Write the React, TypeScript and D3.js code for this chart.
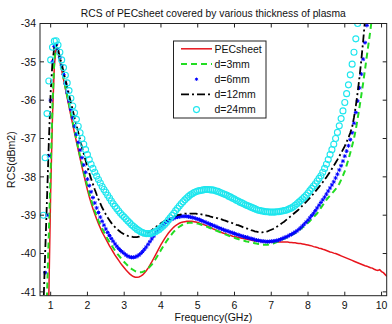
import * as d3 from "d3";

// sampling grid (GHz)
const freq = [
  0.75, 0.8, 0.85, 0.9, 0.95, 1, 1.05, 1.1, 1.15, 1.2,
  1.25, 1.3, 1.35, 1.4, 1.45, 1.5, 1.55, 1.6, 1.65, 1.7,
  1.75, 1.8, 1.85, 1.9, 1.95, 2, 2.05, 2.1, 2.15, 2.2,
  2.25, 2.3, 2.35, 2.4, 2.45, 2.5, 2.55, 2.6, 2.65, 2.7,
  2.75, 2.8, 2.85, 2.9, 2.95, 3, 3.05, 3.1, 3.15, 3.2,
  3.25, 3.3, 3.35, 3.4, 3.45, 3.5, 3.55, 3.6, 3.65, 3.7,
  3.75, 3.8, 3.85, 3.9, 3.95, 4, 4.05, 4.1, 4.15, 4.2,
  4.25, 4.3, 4.35, 4.4, 4.45, 4.5, 4.55, 4.6, 4.65, 4.7,
  4.75, 4.8, 4.85, 4.9, 4.95, 5, 5.05, 5.1, 5.15, 5.2,
  5.25, 5.3, 5.35, 5.4, 5.45, 5.5, 5.55, 5.6, 5.65, 5.7,
  5.75, 5.8, 5.85, 5.9, 5.95, 6, 6.05, 6.1, 6.15, 6.2,
  6.25, 6.3, 6.35, 6.4, 6.45, 6.5, 6.55, 6.6, 6.65, 6.7,
  6.75, 6.8, 6.85, 6.9, 6.95, 7, 7.05, 7.1, 7.15, 7.2,
  7.25, 7.3, 7.35, 7.4, 7.45, 7.5, 7.55, 7.6, 7.65, 7.7,
  7.75, 7.8, 7.85, 7.9, 7.95, 8, 8.05, 8.1, 8.15, 8.2,
  8.25, 8.3, 8.35, 8.4, 8.45, 8.5, 8.55, 8.6, 8.65, 8.7,
  8.75, 8.8, 8.85, 8.9, 8.95, 9, 9.05, 9.1, 9.15, 9.2,
  9.25, 9.3, 9.35, 9.4, 9.45, 9.5, 9.55, 9.6, 9.65, 9.7,
  9.75, 9.8, 9.85, 9.9, 9.95, 10, 10.05, 10.1, 10.15,
];

const pecSheet = [
  null, null, null, -43.2, -41.1, -38.4, -36.4, -35.1, -34.63, -34.75,
  -34.98, -35.22, -35.46, -35.7, -35.94, -36.17, -36.4, -36.63, -36.86, -37.08,
  -37.3, -37.52, -37.73, -37.94, -38.14, -38.34, -38.52, -38.68, -38.83, -38.97,
  -39.1, -39.22, -39.33, -39.44, -39.53, -39.62, -39.71, -39.8, -39.88, -39.96,
  -40.04, -40.11, -40.18, -40.25, -40.31, -40.37, -40.43, -40.48, -40.53, -40.57,
  -40.6, -40.62, -40.62, -40.61, -40.59, -40.56, -40.51, -40.45, -40.38, -40.3,
  -40.22, -40.13, -40.04, -39.95, -39.86, -39.77, -39.69, -39.61, -39.54, -39.47,
  -39.41, -39.36, -39.31, -39.27, -39.24, -39.21, -39.19, -39.18, -39.17, -39.16,
  -39.16, -39.16, -39.16, -39.17, -39.18, -39.19, -39.21, -39.23, -39.24, -39.26,
  -39.28, -39.3, -39.32, -39.35, -39.37, -39.39, -39.41, -39.43, -39.45, -39.47,
  -39.48, -39.5, -39.52, -39.53, -39.55, -39.56, -39.57, -39.58, -39.59, -39.6,
  -39.61, -39.62, -39.63, -39.64, -39.65, -39.66, -39.67, -39.67, -39.68, -39.68,
  -39.69, -39.69, -39.69, -39.7, -39.7, -39.7, -39.7, -39.7, -39.7, -39.7,
  -39.7, -39.7, -39.7, -39.7, -39.7, -39.71, -39.71, -39.72, -39.72, -39.73,
  -39.74, -39.74, -39.75, -39.76, -39.77, -39.78, -39.79, -39.8, -39.82, -39.83,
  -39.84, -39.86, -39.87, -39.89, -39.9, -39.92, -39.94, -39.96, -39.97, -39.99,
  -40.0, -40.02, -40.04, -40.06, -40.08, -40.1, -40.12, -40.14, -40.16, -40.18,
  -40.2, -40.22, -40.24, -40.26, -40.28, -40.3, -40.32, -40.33, -40.35, -40.37,
  -40.38, -40.41, -40.43, -40.44, -40.42, -40.47, -40.5, -40.55, -40.6,
];

const plasma3mm = [
  null, null, -43.0, -41.1, -39.5, -37.8, -36.1, -34.95, -34.6, -34.7,
  -34.93, -35.17, -35.41, -35.65, -35.88, -36.11, -36.34, -36.57, -36.8, -37.02,
  -37.24, -37.45, -37.66, -37.86, -38.06, -38.25, -38.43, -38.6, -38.75, -38.89,
  -39.02, -39.14, -39.25, -39.35, -39.44, -39.53, -39.62, -39.7, -39.78, -39.85,
  -39.92, -39.99, -40.05, -40.11, -40.17, -40.22, -40.27, -40.32, -40.36, -40.4,
  -40.43, -40.46, -40.48, -40.49, -40.49, -40.48, -40.46, -40.43, -40.39, -40.34,
  -40.29, -40.22, -40.15, -40.07, -39.99, -39.91, -39.83, -39.75, -39.68, -39.61,
  -39.55, -39.49, -39.43, -39.38, -39.34, -39.3, -39.27, -39.24, -39.22, -39.21,
  -39.2, -39.2, -39.2, -39.2, -39.21, -39.22, -39.23, -39.25, -39.27, -39.29,
  -39.3, -39.32, -39.34, -39.36, -39.38, -39.4, -39.42, -39.44, -39.46, -39.48,
  -39.5, -39.52, -39.54, -39.56, -39.58, -39.59, -39.61, -39.62, -39.64, -39.65,
  -39.66, -39.68, -39.69, -39.7, -39.71, -39.72, -39.73, -39.74, -39.75, -39.76,
  -39.77, -39.77, -39.77, -39.77, -39.76, -39.75, -39.74, -39.72, -39.7, -39.68,
  -39.66, -39.64, -39.61, -39.59, -39.56, -39.54, -39.52, -39.49, -39.47, -39.44,
  -39.4, -39.36, -39.32, -39.28, -39.24, -39.2, -39.15, -39.1, -39.05, -39.0,
  -38.95, -38.88, -38.81, -38.74, -38.67, -38.6, -38.54, -38.48, -38.43, -38.38,
  -38.32, -38.25, -38.18, -38.08, -37.97, -37.85, -37.7, -37.54, -37.37, -37.19,
  -37.0, -36.76, -36.48, -36.18, -35.87, -35.55, -35.2, -34.85, -34.5, -34.15,
  -33.75, null, null, null, null, null, null, null, null,
];

const plasma6mm = [
  null, -42.0, -40.5, -39.0, -37.45, -36.0, -35.0, -34.6, -34.55, -34.68,
  -34.88, -35.1, -35.33, -35.56, -35.79, -36.02, -36.24, -36.46, -36.68, -36.89,
  -37.1, -37.3, -37.5, -37.69, -37.88, -38.06, -38.23, -38.39, -38.54, -38.68,
  -38.81, -38.93, -39.05, -39.16, -39.26, -39.36, -39.45, -39.53, -39.61, -39.68,
  -39.75, -39.81, -39.87, -39.92, -39.96, -40.0, -40.04, -40.07, -40.09, -40.1,
  -40.1, -40.09, -40.07, -40.04, -40.0, -39.95, -39.89, -39.83, -39.76, -39.69,
  -39.62, -39.55, -39.48, -39.42, -39.36, -39.31, -39.26, -39.22, -39.18, -39.15,
  -39.12, -39.1, -39.08, -39.06, -39.05, -39.04, -39.03, -39.03, -39.03, -39.03,
  -39.04, -39.05, -39.06, -39.07, -39.09, -39.1, -39.12, -39.14, -39.16, -39.18,
  -39.2, -39.22, -39.24, -39.26, -39.28, -39.3, -39.32, -39.34, -39.36, -39.38,
  -39.4, -39.41, -39.43, -39.45, -39.46, -39.48, -39.5, -39.51, -39.53, -39.54,
  -39.56, -39.57, -39.58, -39.6, -39.61, -39.62, -39.64, -39.65, -39.66, -39.67,
  -39.68, -39.68, -39.69, -39.69, -39.69, -39.68, -39.68, -39.67, -39.66, -39.65,
  -39.63, -39.61, -39.59, -39.57, -39.55, -39.52, -39.5, -39.47, -39.44, -39.41,
  -39.37, -39.33, -39.28, -39.23, -39.18, -39.13, -39.07, -39.01, -38.95, -38.88,
  -38.81, -38.74, -38.67, -38.6, -38.53, -38.45, -38.37, -38.29, -38.21, -38.13,
  -38.03, -37.93, -37.82, -37.71, -37.59, -37.46, -37.33, -37.19, -37.03, -36.85,
  -36.6, -36.32, -36.02, -35.68, -35.32, -34.93, -34.5, -34.05, -33.6, null,
  null, null, null, null, null, null, null, null, null,
];

const plasma12mm = [
  null, -41.5, -40.0, -38.6, -37.1, -35.8, -35.0, -34.62, -34.55, -34.68,
  -34.87, -35.06, -35.26, -35.46, -35.66, -35.86, -36.06, -36.26, -36.46, -36.65,
  -36.84, -37.03, -37.22, -37.4, -37.57, -37.74, -37.9, -38.05, -38.19, -38.33,
  -38.46, -38.58, -38.69, -38.8, -38.89, -38.98, -39.06, -39.13, -39.2, -39.26,
  -39.31, -39.36, -39.4, -39.44, -39.47, -39.5, -39.52, -39.54, -39.55, -39.56,
  -39.57, -39.57, -39.57, -39.56, -39.55, -39.53, -39.51, -39.48, -39.45, -39.42,
  -39.39, -39.35, -39.32, -39.28, -39.25, -39.21, -39.18, -39.15, -39.12, -39.1,
  -39.08, -39.06, -39.04, -39.02, -39.0, -38.99, -38.98, -38.97, -38.96, -38.96,
  -38.96, -38.96, -38.96, -38.96, -38.96, -38.97, -38.97, -38.98, -38.99, -39.0,
  -39.01, -39.02, -39.04, -39.05, -39.06, -39.07, -39.08, -39.1, -39.11, -39.13,
  -39.14, -39.16, -39.18, -39.19, -39.21, -39.23, -39.25, -39.26, -39.28, -39.3,
  -39.32, -39.34, -39.35, -39.37, -39.39, -39.4, -39.42, -39.43, -39.44, -39.45,
  -39.45, -39.44, -39.43, -39.42, -39.4, -39.38, -39.36, -39.33, -39.3, -39.27,
  -39.24, -39.2, -39.17, -39.13, -39.09, -39.05, -39.01, -38.97, -38.93, -38.89,
  -38.85, -38.8, -38.75, -38.7, -38.65, -38.6, -38.55, -38.49, -38.44, -38.38,
  -38.32, -38.26, -38.2, -38.14, -38.07, -38.01, -37.94, -37.87, -37.79, -37.71,
  -37.63, -37.55, -37.46, -37.38, -37.29, -37.2, -37.09, -36.98, -36.85, -36.7,
  -36.45, -36.15, -35.8, -35.4, -34.95, -34.45, -33.9, null, null, null,
  null, null, null, null, null, null, null, null, null,
];

const plasma24mm = [
  null, -39.0, -37.5, -36.35, -35.5, -34.95, -34.62, -34.46, -34.45, -34.56,
  -34.75, -34.95, -35.15, -35.35, -35.55, -35.75, -35.95, -36.15, -36.33, -36.5,
  -36.68, -36.85, -37.0, -37.15, -37.29, -37.42, -37.55, -37.67, -37.78, -37.88,
  -37.98, -38.07, -38.16, -38.25, -38.33, -38.4, -38.48, -38.55, -38.63, -38.7,
  -38.77, -38.83, -38.89, -38.95, -39.0, -39.05, -39.1, -39.15, -39.2, -39.25,
  -39.29, -39.33, -39.37, -39.4, -39.43, -39.45, -39.47, -39.48, -39.48, -39.48,
  -39.47, -39.45, -39.43, -39.4, -39.37, -39.33, -39.29, -39.24, -39.19, -39.13,
  -39.07, -39.01, -38.95, -38.88, -38.82, -38.76, -38.7, -38.65, -38.6, -38.55,
  -38.51, -38.47, -38.44, -38.41, -38.39, -38.37, -38.36, -38.35, -38.34, -38.33,
  -38.33, -38.33, -38.34, -38.34, -38.35, -38.37, -38.38, -38.4, -38.42, -38.44,
  -38.46, -38.48, -38.51, -38.53, -38.56, -38.58, -38.61, -38.63, -38.66, -38.68,
  -38.7, -38.73, -38.75, -38.77, -38.79, -38.81, -38.83, -38.85, -38.87, -38.88,
  -38.89, -38.9, -38.91, -38.91, -38.92, -38.92, -38.92, -38.92, -38.91, -38.91,
  -38.9, -38.89, -38.88, -38.87, -38.85, -38.83, -38.81, -38.78, -38.74, -38.7,
  -38.66, -38.62, -38.57, -38.53, -38.48, -38.42, -38.36, -38.3, -38.24, -38.18,
  -38.11, -38.04, -37.97, -37.88, -37.78, -37.67, -37.55, -37.42, -37.29, -37.15,
  -37.0, -36.84, -36.67, -36.48, -36.28, -36.06, -35.83, -35.6, -35.34, -35.06,
  -34.75, -34.4, -34.0, -33.55, null, null, null, null, null, null,
  null, null, null, null, null, null, null, null, null,
];

const xTicks = [1, 2, 3, 4, 5, 6, 7, 8, 9, 10];
const yTicks = [-41, -40, -39, -38, -37, -36, -35, -34];
const seriesNames = ["PECsheet", "d=3mm", "d=6mm", "d=12mm", "d=24mm"];

type Row = [number, number | null];

const width = 392;
const height = 324;
const margin = { top: 23.5, right: 5.3, bottom: 28.3, left: 40 };
const font = "'Liberation Sans', Arial, Helvetica, sans-serif";

function asterisk(cx: number, cy: number, r: number) {
  const k = r * 0.72;
  return `M${cx - r},${cy}h${2 * r}M${cx},${cy - r}v${2 * r}` +
    `M${cx - k},${cy - k}l${2 * k},${2 * k}M${cx - k},${cy + k}l${2 * k},${-2 * k}`;
}

export default function App() {
  const plotL = margin.left;
  const plotR = width - margin.right;
  const plotT = margin.top;
  const plotB = height - margin.bottom;

  const x = d3.scaleLinear().domain([0.71, 10.14]).range([plotL, plotR]);
  const y = d3.scaleLinear().domain([-41.1, -34]).range([plotB, plotT]);

  const rows = (vals: (number | null)[]): Row[] => freq.map((f, i) => [f, vals[i]] as Row);
  const valid = (vals: (number | null)[]) => rows(vals).filter(d => d[1] !== null) as [number, number][];

  const line = d3
    .line<Row>()
    .defined(d => d[1] !== null)
    .x(d => x(d[0]))
    .y(d => y(d[1] as number));

  const blueStars = valid(plasma6mm).map(d => asterisk(x(d[0]), y(d[1]), 2)).join("");

  const legendX0 = 181;
  const legendX1 = 212;
  const legendY = (i: number) => 48.8 + i * 15.2;

  return (
    <svg
      width={width}
      height={height}
      style={{ position: "fixed", left: 0, top: 0, background: "#fff" }}
      fontFamily={font}
    >
      <rect x={0} y={0} width={width} height={height} fill="#fff" />
      <defs>
        <clipPath id="plot-clip">
          <rect x={plotL} y={plotT} width={plotR - plotL} height={plotB - plotT} />
        </clipPath>
      </defs>

      <text x={(plotL + plotR) / 2} y={16.5} textAnchor="middle" fontSize={10.3} fill="#111">
        RCS of PECsheet covered by various thickness of plasma
      </text>

      <g clipPath="url(#plot-clip)">
        <path d={line(rows(pecSheet)) || ""} fill="none" stroke="#e8141c" strokeWidth={1.5} />
        <path d={line(rows(plasma3mm)) || ""} fill="none" stroke="#22dd22" strokeWidth={2} strokeDasharray="6,4" />
        <path d={blueStars} fill="none" stroke="#0000ff" strokeWidth={1} />
        <path d={line(rows(plasma12mm)) || ""} fill="none" stroke="#000" strokeWidth={1.8} strokeDasharray="8,3,2,3" />
        {valid(plasma24mm).map((d, i) => (
          <circle key={i} cx={x(d[0])} cy={y(d[1])} r={3} fill="none" stroke="#1ee6ee" strokeWidth={1.1} />
        ))}
      </g>

      {/* axes box with inward ticks */}
      <rect x={plotL} y={plotT} width={plotR - plotL} height={plotB - plotT} fill="none" stroke="#222" strokeWidth={1} />
      {xTicks.map(t => (
        <g key={`x${t}`}>
          <line x1={x(t)} x2={x(t)} y1={plotB} y2={plotB - 4} stroke="#222" />
          <line x1={x(t)} x2={x(t)} y1={plotT} y2={plotT + 4} stroke="#222" />
          <text x={x(t)} y={309} textAnchor="middle" fontSize={10.5} fill="#111">{t}</text>
        </g>
      ))}
      {yTicks.map(t => (
        <g key={`y${t}`}>
          <line x1={plotL} x2={plotL + 4} y1={y(t)} y2={y(t)} stroke="#222" />
          <line x1={plotR} x2={plotR - 4} y1={y(t)} y2={y(t)} stroke="#222" />
          <text x={36} y={y(t)} dy="0.35em" textAnchor="end" fontSize={10.5} fill="#111">{t}</text>
        </g>
      ))}

      <text x={(plotL + plotR) / 2} y={320.5} textAnchor="middle" fontSize={10.5} fill="#111">
        Frequency(GHz)
      </text>
      <text
        transform={`translate(15,${(plotT + plotB) / 2}) rotate(-90)`}
        textAnchor="middle"
        fontSize={10.5}
        fill="#111"
      >
        RCS(dBm2)
      </text>

      {/* legend */}
      <rect x={173.5} y={41} width={92.5} height={77} fill="#fff" stroke="#222" strokeWidth={1} />
      <line x1={legendX0} x2={legendX1} y1={legendY(0)} y2={legendY(0)} stroke="#e8141c" strokeWidth={1.5} />
      <line x1={legendX0} x2={legendX1} y1={legendY(1)} y2={legendY(1)} stroke="#22dd22" strokeWidth={2} strokeDasharray="6,4" />
      <path d={asterisk((legendX0 + legendX1) / 2, legendY(2), 1.6)} stroke="#0000ff" strokeWidth={1} />
      <line x1={legendX0} x2={legendX1} y1={legendY(3)} y2={legendY(3)} stroke="#000" strokeWidth={1.8} strokeDasharray="8,3,2,3" />
      <circle cx={(legendX0 + legendX1) / 2} cy={legendY(4)} r={3} fill="none" stroke="#1ee6ee" strokeWidth={1.1} />
      {seriesNames.map((name, i) => (
        <text key={name} x={214.5} y={legendY(i)} dy="0.36em" fontSize={10.5} fill="#111">
          {name}
        </text>
      ))}
    </svg>
  );
}
